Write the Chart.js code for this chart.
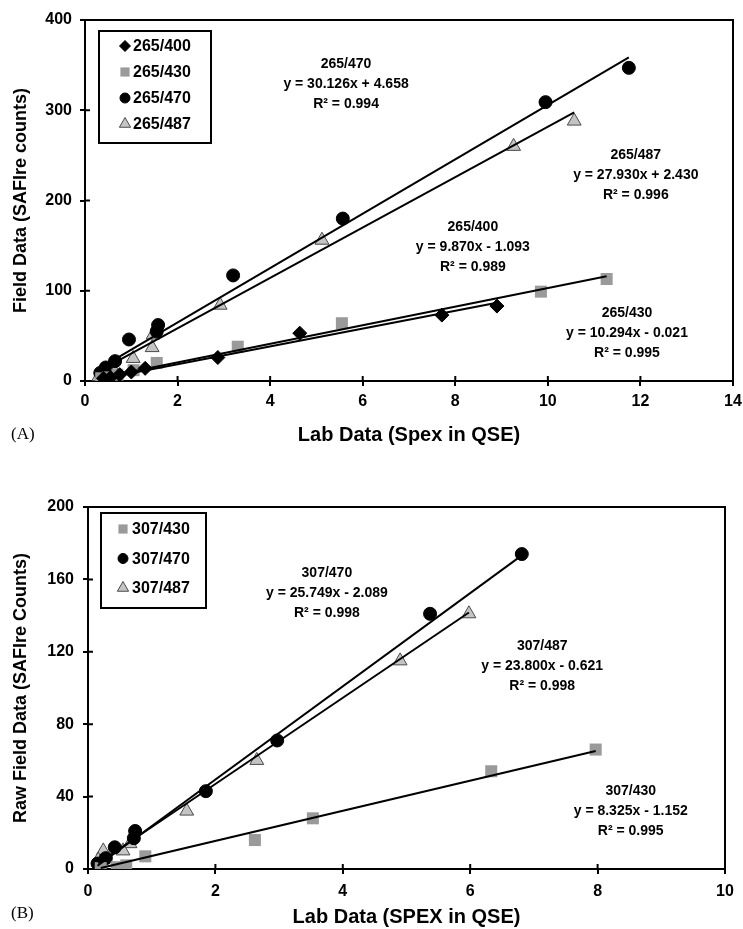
<!DOCTYPE html>
<html>
<head>
<meta charset="utf-8">
<title>SAFIre field data vs lab data</title>
<script src="https://cdn.jsdelivr.net/npm/chart.js@4.4.1/dist/chart.umd.min.js"></script>
<style>
  body { margin: 0; background: #fff; }
  .wrap { position: relative; width: 743px; height: 929px; }
  canvas { position: absolute; left: 0; }
  #chartA { top: 0; }
  #chartB { top: 460px; }
  .panel { position: absolute; left: 11px; font-family: "Liberation Serif", "Times New Roman", serif; font-size: 17px; color: #000; }
</style>
</head>
<body>
<div class="wrap">
  <canvas id="chartA" width="743" height="460"></canvas>
  <canvas id="chartB" width="743" height="469"></canvas>
  <div class="panel" style="top:424px">(A)</div>
  <div class="panel" style="top:903px">(B)</div>
</div>
<script>
// ---- Panel A: 265 nm excitation ----
const seriesA = ["265/400", "265/430", "265/470", "265/487"];
const labA400 = [8.9, 7.71, 4.64, 2.87, 1.3, 1.0, 0.75, 0.55, 0.4];
const fieldA400 = [83, 73, 53, 26, 14, 10, 7, 4, 3];
const labA430 = [11.27, 9.85, 5.55, 3.3, 1.55, 1.05, 0.7, 0.5, 0.35];
const fieldA430 = [113, 99, 64, 38, 20, 12, 7, 4, 3];
const labA470 = [11.75, 9.95, 5.57, 3.2, 1.58, 1.55, 0.95, 0.65, 0.45, 0.33];
const fieldA470 = [347, 309, 180, 117, 62, 55, 46, 22, 15, 9];
const labA487 = [10.57, 9.26, 5.12, 2.92, 1.47, 1.45, 1.04, 0.6, 0.42, 0.3];
const fieldA487 = [288, 260, 156, 84, 51, 37, 25, 14, 9, 5];
const slopesA = [9.870, 10.294, 30.126, 27.930];
const interceptsA = [-1.093, -0.021, 4.658, 2.430];
const r2A = [0.989, 0.995, 0.994, 0.996];
const xTicksA = [0, 2, 4, 6, 8, 10, 12, 14];
const yTicksA = [0, 100, 200, 300, 400];

// ---- Panel B: 307 nm excitation ----
const seriesB = ["307/430", "307/470", "307/487"];
const labB430 = [7.97, 6.33, 3.53, 2.62, 0.9, 0.6, 0.45, 0.2];
const fieldB430 = [66, 54, 28, 16, 7, 2, 1, 0.5];
const labB470 = [6.81, 5.37, 2.97, 1.85, 0.74, 0.72, 0.42, 0.28, 0.15];
const fieldB470 = [174, 141, 71, 43, 21, 17, 12, 6, 3];
const labB487 = [5.98, 4.9, 2.65, 1.55, 0.66, 0.55, 0.24, 0.16];
const fieldB487 = [141, 115, 60, 32, 14, 10, 10, 5];
const slopesB = [8.325, 25.749, 23.800];
const interceptsB = [-1.152, -2.089, -0.621];
const r2B = [0.995, 0.998, 0.998];
const xTicksB = [0, 2, 4, 6, 8, 10];
const yTicksB = [0, 40, 80, 120, 160, 200];

const FONT = '"Liberation Sans", Arial, sans-serif';

// marker look for each emission wavelength
const markers = {
  "400": { pointStyle: "rectRot", pointRadius: 7, backgroundColor: "#000", borderColor: "#000", borderWidth: 1 },
  "430": { pointStyle: "rect", pointRadius: 8.5, backgroundColor: "#9a9a9a", borderColor: "#9a9a9a", borderWidth: 0 },
  "470": { pointStyle: "circle", pointRadius: 6.5, backgroundColor: "#000", borderColor: "#000", borderWidth: 1 },
  "487": { pointStyle: "triangle", pointRadius: 8, backgroundColor: "#c4c4c4", borderColor: "#4a4a4a", borderWidth: 1 }
};
const legendRadius = { rectRot: 5.5, rect: 6.5, circle: 5, triangle: 6.5 };

function buildDatasets(names, xs, ys, slopes, intercepts) {
  const sets = [];
  names.forEach((name, i) => {
    const style = markers[name.split("/")[1]];
    sets.push(Object.assign({
      label: name,
      data: xs[i].map((x, j) => ({ x: x, y: ys[i][j] })),
      pointHoverRadius: style.pointRadius,
      order: 2
    }, style));
  });
  // linear trend line of each series across its own x range
  names.forEach((name, i) => {
    const lo = Math.min(...xs[i]);
    const hi = Math.max(...xs[i]);
    sets.push({
      label: name + " fit",
      trend: true,
      data: [
        { x: lo, y: slopes[i] * lo + intercepts[i] },
        { x: hi, y: slopes[i] * hi + intercepts[i] }
      ],
      showLine: true,
      pointRadius: 0,
      borderColor: "#000",
      borderWidth: 2,
      order: 1
    });
  });
  return sets;
}

function fitText(name, slope, intercept, r2) {
  const sign = intercept < 0 ? "-" : "+";
  return [
    name,
    "y = " + slope.toFixed(3) + "x " + sign + " " + Math.abs(intercept).toFixed(3),
    "R\u00B2 = " + r2.toFixed(3)
  ];
}

// box around the plot area plus the inner half of each tick mark
const frame = {
  id: "frame",
  beforeDatasetsDraw(chart) {
    const { ctx, chartArea: a, scales } = chart;
    ctx.save();
    ctx.strokeStyle = "#000";
    ctx.lineWidth = 2;
    ctx.strokeRect(a.left, a.top, a.right - a.left, a.bottom - a.top);
    ctx.beginPath();
    scales.x.ticks.forEach((t) => {
      const px = scales.x.getPixelForValue(t.value);
      ctx.moveTo(px, a.bottom);
      ctx.lineTo(px, a.bottom - 5);
    });
    scales.y.ticks.forEach((t) => {
      const py = scales.y.getPixelForValue(t.value);
      ctx.moveTo(a.left, py);
      ctx.lineTo(a.left + 5, py);
    });
    ctx.stroke();
    ctx.restore();
  }
};

// regression equations written next to the lines
const fitLabels = {
  id: "fitLabels",
  afterDatasetsDraw(chart, args, opts) {
    const { ctx, scales } = chart;
    ctx.save();
    ctx.font = "bold 14px " + FONT;
    ctx.textAlign = "center";
    ctx.textBaseline = "middle";
    ctx.fillStyle = "#000";
    opts.items.forEach((it) => {
      const px = scales.x.getPixelForValue(it.at[0]);
      const py = scales.y.getPixelForValue(it.at[1]);
      it.lines.forEach((t, k) => ctx.fillText(t, px, py + (k - 1) * 20));
    });
    ctx.restore();
  }
};

// framed legend sitting inside the plot, top left
const boxLegend = {
  id: "boxLegend",
  afterDraw(chart, args, opts) {
    const { ctx, chartArea: a } = chart;
    const left = a.left + opts.x;
    const top = a.top + opts.y;
    ctx.save();
    ctx.fillStyle = "#fff";
    ctx.fillRect(left, top, opts.w, opts.h);
    ctx.lineWidth = 2;
    ctx.strokeStyle = "#000";
    ctx.strokeRect(left, top, opts.w, opts.h);
    ctx.font = "bold 16px " + FONT;
    ctx.textBaseline = "middle";
    chart.data.datasets.filter((d) => !d.trend).forEach((d, i) => {
      const cy = top + opts.first + i * opts.gap;
      ctx.fillStyle = d.backgroundColor;
      ctx.strokeStyle = d.borderColor;
      ctx.lineWidth = d.borderWidth;
      Chart.helpers.drawPoint(ctx, {
        pointStyle: d.pointStyle,
        radius: legendRadius[d.pointStyle],
        borderWidth: d.borderWidth,
        rotation: 0
      }, left + opts.markerX, cy);
      ctx.fillStyle = "#000";
      ctx.fillText(d.label, left + opts.textX, cy + 1);
    });
    ctx.restore();
  }
};

function axisX(ticks, title, xAxisHeight, labelPad, titlePad) {
  return {
    type: "linear",
    min: ticks[0],
    max: ticks[ticks.length - 1],
    afterBuildTicks: (s) => { s.ticks = ticks.map((v) => ({ value: v })); },
    afterFit: (s) => {
      s.height = xAxisHeight;
      // edge room comes from layout.padding only
      s.paddingLeft = 0;
      s.paddingRight = 0;
    },
    border: { color: "#000", width: 2 },
    grid: { drawOnChartArea: false, drawTicks: true, tickLength: 5, color: "#000", lineWidth: 2 },
    ticks: { color: "#000", padding: labelPad, maxRotation: 0, font: { family: FONT, size: 16, weight: "bold" } },
    title: { display: true, text: title, color: "#000", padding: { top: 0, bottom: titlePad }, font: { family: FONT, size: 20, weight: "bold" } }
  };
}

function axisY(ticks, title, width, labelPad) {
  return {
    type: "linear",
    min: ticks[0],
    max: ticks[ticks.length - 1],
    afterBuildTicks: (s) => { s.ticks = ticks.map((v) => ({ value: v })); },
    afterFit: (s) => {
      s.width = width;
      s.paddingTop = 0;
      s.paddingBottom = 0;
    },
    border: { color: "#000", width: 2 },
    grid: { drawOnChartArea: false, drawTicks: true, tickLength: 5, color: "#000", lineWidth: 2 },
    ticks: { color: "#000", padding: labelPad, font: { family: FONT, size: 16, weight: "bold" } },
    title: { display: true, text: title, color: "#000", padding: { top: 10, bottom: 0 }, font: { family: FONT, size: 18, weight: "bold" } }
  };
}

// ---- chart A ----
const dataA = buildDatasets(seriesA,
  [labA400, labA430, labA470, labA487],
  [fieldA400, fieldA430, fieldA470, fieldA487],
  slopesA, interceptsA);
const labelSpotsA = [[8.38, 148], [11.71, 53], [5.64, 329], [11.9, 228]];

new Chart(document.getElementById("chartA"), {
  type: "scatter",
  data: { datasets: dataA },
  options: {
    responsive: false,
    animation: false,
    layout: { padding: { top: 20, right: 10, left: 0, bottom: 0 } },
    scales: {
      x: axisX(xTicksA, "Lab Data (Spex in QSE)", 79, 6, 13),
      y: axisY(yTicksA, "Field Data (SAFIre counts)", 85, 8)
    },
    plugins: {
      legend: { display: false },
      tooltip: { enabled: false },
      fitLabels: { items: seriesA.map((n, i) => ({ at: labelSpotsA[i], lines: fitText(n, slopesA[i], interceptsA[i], r2A[i]) })) },
      boxLegend: { x: 14, y: 11, w: 112, h: 112, first: 15, gap: 26, markerX: 26, textX: 34 }
    }
  },
  plugins: [frame, fitLabels, boxLegend]
});

// ---- chart B ----
const dataB = buildDatasets(seriesB,
  [labB430, labB470, labB487],
  [fieldB430, fieldB470, fieldB487],
  slopesB, interceptsB);
const labelSpotsB = [[8.52, 32], [3.75, 152.5], [7.13, 112]];

new Chart(document.getElementById("chartB"), {
  type: "scatter",
  data: { datasets: dataB },
  options: {
    responsive: false,
    animation: false,
    layout: { padding: { top: 47, right: 18, left: 0, bottom: 0 } },
    scales: {
      x: axisX(xTicksB, "Lab Data (SPEX in QSE)", 60, 8, 0),
      y: axisY(yTicksB, "Raw Field Data (SAFIre Counts)", 88, 9)
    },
    plugins: {
      legend: { display: false },
      tooltip: { enabled: false },
      fitLabels: { items: seriesB.map((n, i) => ({ at: labelSpotsB[i], lines: fitText(n, slopesB[i], interceptsB[i], r2B[i]) })) },
      boxLegend: { x: 13, y: 6, w: 105, h: 95, first: 16, gap: 29.5, markerX: 22, textX: 31 }
    }
  },
  plugins: [frame, fitLabels, boxLegend]
});
</script>
</body>
</html>
